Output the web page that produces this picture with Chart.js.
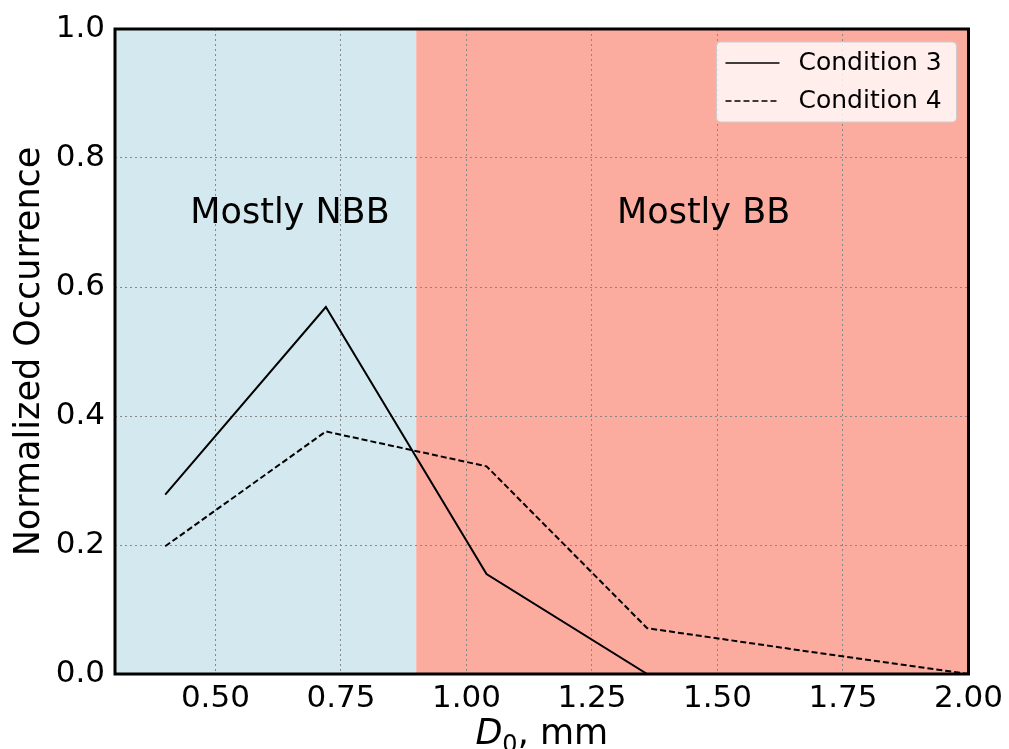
<!DOCTYPE html>
<html lang="en">
<head>
  <meta charset="UTF-8">
  <title>Normalized Occurrence vs D0</title>
  <script src="https://cdn.jsdelivr.net/npm/chart.js"></script>
  <style>
    html, body { margin: 0; padding: 0; background: #fff; }
  </style>
</head>
<body>
  <canvas id="occChart" width="1009" height="749"></canvas>

  <script>
    // data
    const d0 = [0.40, 0.72, 1.04, 1.36, 1.68, 2.00];
    const condition3 = [0.278, 0.569, 0.155, 0.0, 0.0, 0.0];
    const condition4 = [0.198, 0.376, 0.322, 0.071, 0.035, 0.0];
    const seriesNames = ['Condition 3', 'Condition 4'];

    const xTicks = [0.5, 0.75, 1.0, 1.25, 1.5, 1.75, 2.0];
    const yTicks = [0.0, 0.2, 0.4, 0.6, 0.8, 1.0];

    // shaded regimes
    const regionEdges = [0.3, 0.9, 2.0];
    const regionLabels = ['Mostly NBB', 'Mostly BB'];
    const regionLabelPos = [[0.45, 0.7], [1.3, 0.7]];
    const regionColors = ['#d4e9ef', '#fcac9f'];

    const yTitle = 'Normalized Occurrence';
    const FONT = '"DejaVu Sans", Verdana, sans-serif';

    const pts = (xs, ys) => xs.map((v, i) => ({ x: v, y: ys[i] }));

    const figurePlugin = {
      id: 'figure',
      beforeDraw(chart) {
        const { ctx, chartArea: a, scales: { x } } = chart;
        ctx.save();
        for (let i = 0; i < regionColors.length; i++) {
          const x0 = x.getPixelForValue(regionEdges[i]);
          const x1 = x.getPixelForValue(regionEdges[i + 1]);
          ctx.fillStyle = regionColors[i];
          ctx.fillRect(x0, a.top, x1 - x0, a.bottom - a.top);
        }
        ctx.restore();
      },
      beforeDatasetsDraw(chart) {
        const { ctx, scales: { x, y } } = chart;
        ctx.save();
        ctx.fillStyle = '#000';
        ctx.font = '35px ' + FONT;
        ctx.textAlign = 'left';
        ctx.textBaseline = 'alphabetic';
        regionLabels.forEach((t, i) => {
          ctx.fillText(t, x.getPixelForValue(regionLabelPos[i][0]), y.getPixelForValue(regionLabelPos[i][1]));
        });
        ctx.restore();
      },
      afterDatasetsDraw(chart) {
        const { ctx, chartArea: a } = chart;
        ctx.save();
        // axes frame
        ctx.strokeStyle = '#000';
        ctx.lineWidth = 3;
        ctx.strokeRect(a.left, a.top, a.right - a.left, a.bottom - a.top);

        // legend
        const bw = 240, bh = 80;
        const bx = a.right - 12 - bw, by = a.top + 13;
        ctx.beginPath();
        ctx.roundRect(bx, by, bw, bh, 4);
        ctx.fillStyle = 'rgba(255,255,255,0.8)';
        ctx.fill();
        ctx.lineWidth = 1;
        ctx.strokeStyle = '#cccccc';
        ctx.stroke();
        ctx.font = '25px ' + FONT;
        ctx.textBaseline = 'middle';
        ctx.textAlign = 'left';
        chart.data.datasets.forEach((ds, i) => {
          const ly = by + 21 + i * 38;
          ctx.beginPath();
          ctx.setLineDash(ds.borderDash || []);
          ctx.lineWidth = 1.5;
          ctx.strokeStyle = '#000';
          ctx.moveTo(bx + 9, ly);
          ctx.lineTo(bx + 63, ly);
          ctx.stroke();
          ctx.setLineDash([]);
          ctx.fillStyle = '#000';
          ctx.fillText(ds.label, bx + 82, ly);
        });

        // x axis title: D0 (italic D, subscript 0), mm
        const big = '35px ' + FONT, ital = 'italic 35px ' + FONT, small = '24px ' + FONT;
        ctx.textBaseline = 'alphabetic';
        ctx.font = ital; const wD = ctx.measureText('D').width;
        ctx.font = small; const w0 = ctx.measureText('0').width;
        ctx.font = big; const wR = ctx.measureText(', mm').width;
        let tx = (a.left + a.right) / 2 - (wD + w0 + wR) / 2;
        const ty = 744;
        ctx.font = ital; ctx.fillText('D', tx, ty); tx += wD;
        ctx.font = small; ctx.fillText('0', tx, ty + 8); tx += w0;
        ctx.font = big; ctx.fillText(', mm', tx, ty);
        ctx.restore();
      }
    };

    const config = {
      type: 'line',
      data: {
        datasets: [
          {
            label: seriesNames[0],
            data: pts(d0, condition3),
            borderColor: '#000',
            borderWidth: 2,
            pointRadius: 0,
            tension: 0
          },
          {
            label: seriesNames[1],
            data: pts(d0, condition4),
            borderColor: '#000',
            borderWidth: 2,
            borderDash: [6, 3],
            pointRadius: 0,
            tension: 0
          }
        ]
      },
      options: {
        responsive: false,
        animation: false,
        layout: { padding: { left: 0, right: 39, top: 29, bottom: 0 } },
        plugins: {
          legend: { display: false },
          tooltip: { enabled: false }
        },
        scales: {
          x: {
            type: 'linear',
            min: 0.3,
            max: 2.0,
            afterBuildTicks: (s) => { s.ticks = xTicks.map(v => ({ value: v })); },
            afterFit: (s) => { s.height = 75; },
            grid: { color: '#888', lineWidth: 1, drawTicks: false },
            border: { display: false, dash: [2, 3] },
            ticks: {
              color: '#000',
              padding: 6,
              maxRotation: 0,
              font: { family: FONT, size: 31 },
              callback: (v) => Number(v).toFixed(2)
            }
          },
          y: {
            min: 0,
            max: 1,
            afterBuildTicks: (s) => { s.ticks = yTicks.map(v => ({ value: v })); },
            afterFit: (s) => { s.width = 115; },
            grid: { color: '#888', lineWidth: 1, drawTicks: false },
            border: { display: false, dash: [2, 3] },
            ticks: {
              color: '#000',
              padding: 10,
              font: { family: FONT, size: 31 },
              callback: (v) => Number(v).toFixed(1)
            },
            title: {
              display: true,
              text: yTitle,
              color: '#000',
              padding: { top: 9, bottom: 0 },
              font: { family: FONT, size: 35 }
            }
          }
        }
      },
      plugins: [figurePlugin]
    };

    const occChart = new Chart(document.getElementById('occChart'), config);
  </script>
</body>
</html>
